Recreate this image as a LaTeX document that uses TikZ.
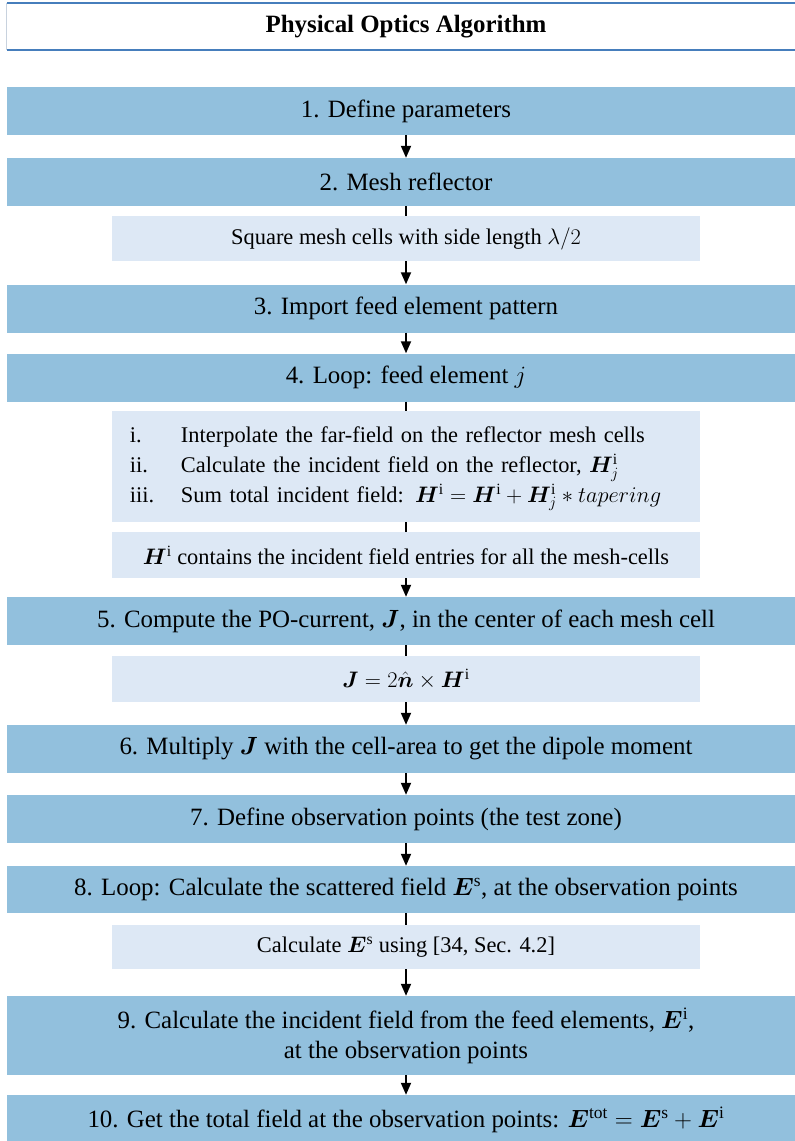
\RequirePackage{fix-cm}
\documentclass[tikz,border=0pt]{standalone}
\usepackage{amsmath, bm}
\usepackage{fontspec}
\setmainfont{Liberation Serif}
\usetikzlibrary{arrows.meta,positioning}
\definecolor{StepBlue}{RGB}{146,192,221}
\definecolor{NoteBlue}{RGB}{221,232,245}
\definecolor{TitleBlue}{RGB}{70,126,188}
\definecolor{EdgeGray}{RGB}{200,210,222}

\begin{document}
\begin{tikzpicture}[x=1bp, y=-1bp,
  stepbox/.style={fill=StepBlue, minimum width=798bp, minimum height=48bp, inner sep=0pt, font=\fontsize{25}{30}\selectfont},
  notebox/.style={fill=NoteBlue, minimum width=588bp, minimum height=45bp, inner sep=0pt, font=\fontsize{22.5}{30}\selectfont},
  flow/.style={line width=1.8bp, -{Triangle[length=12bp, width=10bp]}},
  link/.style={line width=1.8bp}]
  \clip (0,0) rectangle (795,1141);

  % Title
  \node[minimum width=798bp, minimum height=47bp, inner sep=0pt, font=\fontsize{25}{30}\selectfont\bfseries] (title) at (406,26.5) {Physical Optics Algorithm};
  \draw[EdgeGray, line width=1bp] (title.north west) -- (title.south west);
  \draw[TitleBlue, line width=2bp] (title.north west) -- (title.north east);
  \draw[TitleBlue, line width=2bp] (title.south west) -- (title.south east);

  % Steps
  \node[stepbox] (b1) at (406,111) {1. Define parameters};
  \node[stepbox] (b2) at (406,182) {2. Mesh reflector};
  \node[notebox] (s2) at (406,238.5) {Square mesh cells with side length $\lambda/2$};
  \node[stepbox] (b3) at (406,308.5) {3. Import feed element pattern};
  \node[stepbox] (b4) at (406,377.5) {4. Loop: feed element $j$};
  \node[notebox, minimum height=111bp, text width=552bp, align=left] (s4a) at (406,466.5) {%
    \begin{tabular}{@{}p{51bp}@{}l@{}}
      i.   & Interpolate the far-field on the reflector mesh cells\\
      ii.  & Calculate the incident field on the reflector, $\bm{H}^{\mathrm{i}}_{j}$\\
      iii. & Sum total incident field: $\bm{H}^{\mathrm{i}} = \bm{H}^{\mathrm{i}} + \bm{H}^{\mathrm{i}}_{j} \ast tapering$
    \end{tabular}};
  \node[notebox, minimum height=46bp] (s4b) at (406,555) {$\bm{H}^{\mathrm{i}}$ contains the incident field entries for all the mesh-cells};
  \node[stepbox] (b5) at (406,621) {5. Compute the PO-current, $\bm{J}$, in the center of each mesh cell};
  \node[notebox, minimum height=46bp] (s5) at (406,679) {$\bm{J} = 2\hat{\bm{n}} \times \bm{H}^{\mathrm{i}}$};
  \node[stepbox] (b6) at (406,749) {6. Multiply $\bm{J}$ with the cell-area to get the dipole moment};
  \node[stepbox] (b7) at (406,819) {7. Define observation points (the test zone)};
  \node[stepbox, minimum height=47bp] (b8) at (406,889.5) {8. Loop: Calculate the scattered field $\bm{E}^{\mathrm{s}}$, at the observation points};
  \node[notebox, minimum height=44bp] (s8) at (406,947) {Calculate $\bm{E}^{\mathrm{s}}$ using [34, Sec. 4.2]};
  \node[stepbox, minimum height=79bp, align=center] (b9) at (406,1035.5) {9. Calculate the incident field from the feed elements, $\bm{E}^{\mathrm{i}}$,\\ at the observation points};
  \node[stepbox, minimum height=50bp] (b10) at (406,1120) {10. Get the total field at the observation points: $\bm{E}^{\mathrm{tot}} = \bm{E}^{\mathrm{s}} + \bm{E}^{\mathrm{i}}$};

  % Connectors
  \foreach \from/\to in {b1/b2, s2/b3, b3/b4, s4b/b5, s5/b6, b6/b7, b7/b8, s8/b9, b9/b10}
    \draw[flow] (\from) -- (\to);
  \foreach \from/\to in {b2/s2, b4/s4a, s4a/s4b, b5/s5, b8/s8}
    \draw[link] (\from) -- (\to);
\end{tikzpicture}
\end{document}
